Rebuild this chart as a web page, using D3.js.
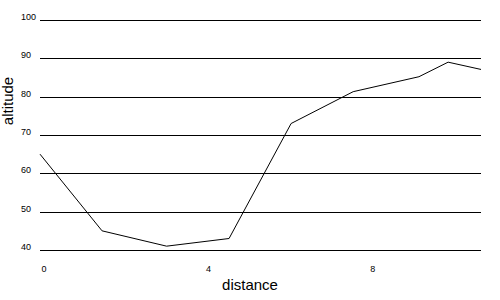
<!DOCTYPE html>
<html>
<head>
<meta charset="utf-8">
<script src="https://cdn.jsdelivr.net/npm/d3@7"></script>
<style>
  html, body { margin: 0; padding: 0; background: #fff; }
  svg { display: block; font-family: "Liberation Sans", Arial, sans-serif; }
</style>
</head>
<body>
<svg id="chart" width="500" height="300"></svg>
<script>
const distance = [0, 1.51, 3.08, 4.6, 6.11, 7.62, 9.22, 9.93, 10.73];
const altitude = [65, 45, 41, 43, 73, 81.3, 85.2, 89, 87.1];
const yTicks = [40, 50, 60, 70, 80, 90, 100];
const xTicks = [0, 4, 8];

const svg = d3.select("#chart");
const x = d3.scaleLinear().domain([0, 10.73]).range([40, 481]);
const y = d3.scaleLinear().domain([40, 100]).range([250, 20]);

// gridlines
svg.append("g").selectAll("line").data(yTicks).join("line")
  .attr("x1", 40).attr("x2", 481)
  .attr("y1", d => Math.round(y(d)) + 0.5)
  .attr("y2", d => Math.round(y(d)) + 0.5)
  .attr("stroke", "#000").attr("stroke-width", 1)
  .attr("shape-rendering", "crispEdges");

// y labels
svg.append("g").selectAll("text").data(yTicks).join("text")
  .attr("x", 21).attr("y", d => Math.round(y(d)))
  .attr("font-size", 9).attr("fill", "#000")
  .text(d => d);

// x labels
svg.append("g").selectAll("text").data(xTicks).join("text")
  .attr("x", d => x(d) + 4).attr("y", 272)
  .attr("text-anchor", "middle")
  .attr("font-size", 9).attr("fill", "#000")
  .text(d => d);

// line
const line = d3.line().x((d, i) => x(distance[i])).y(d => y(d));
svg.append("path").datum(altitude)
  .attr("d", line)
  .attr("fill", "none").attr("stroke", "#000").attr("stroke-width", 1);

// axis titles
svg.append("text")
  .attr("x", 250).attr("y", 290)
  .attr("text-anchor", "middle").attr("font-size", 15).attr("fill", "#000")
  .text("distance");

svg.append("text")
  .attr("transform", "translate(13,101) rotate(-90)")
  .attr("text-anchor", "middle").attr("font-size", 15).attr("fill", "#000")
  .text("altitude");
</script>
</body>
</html>
